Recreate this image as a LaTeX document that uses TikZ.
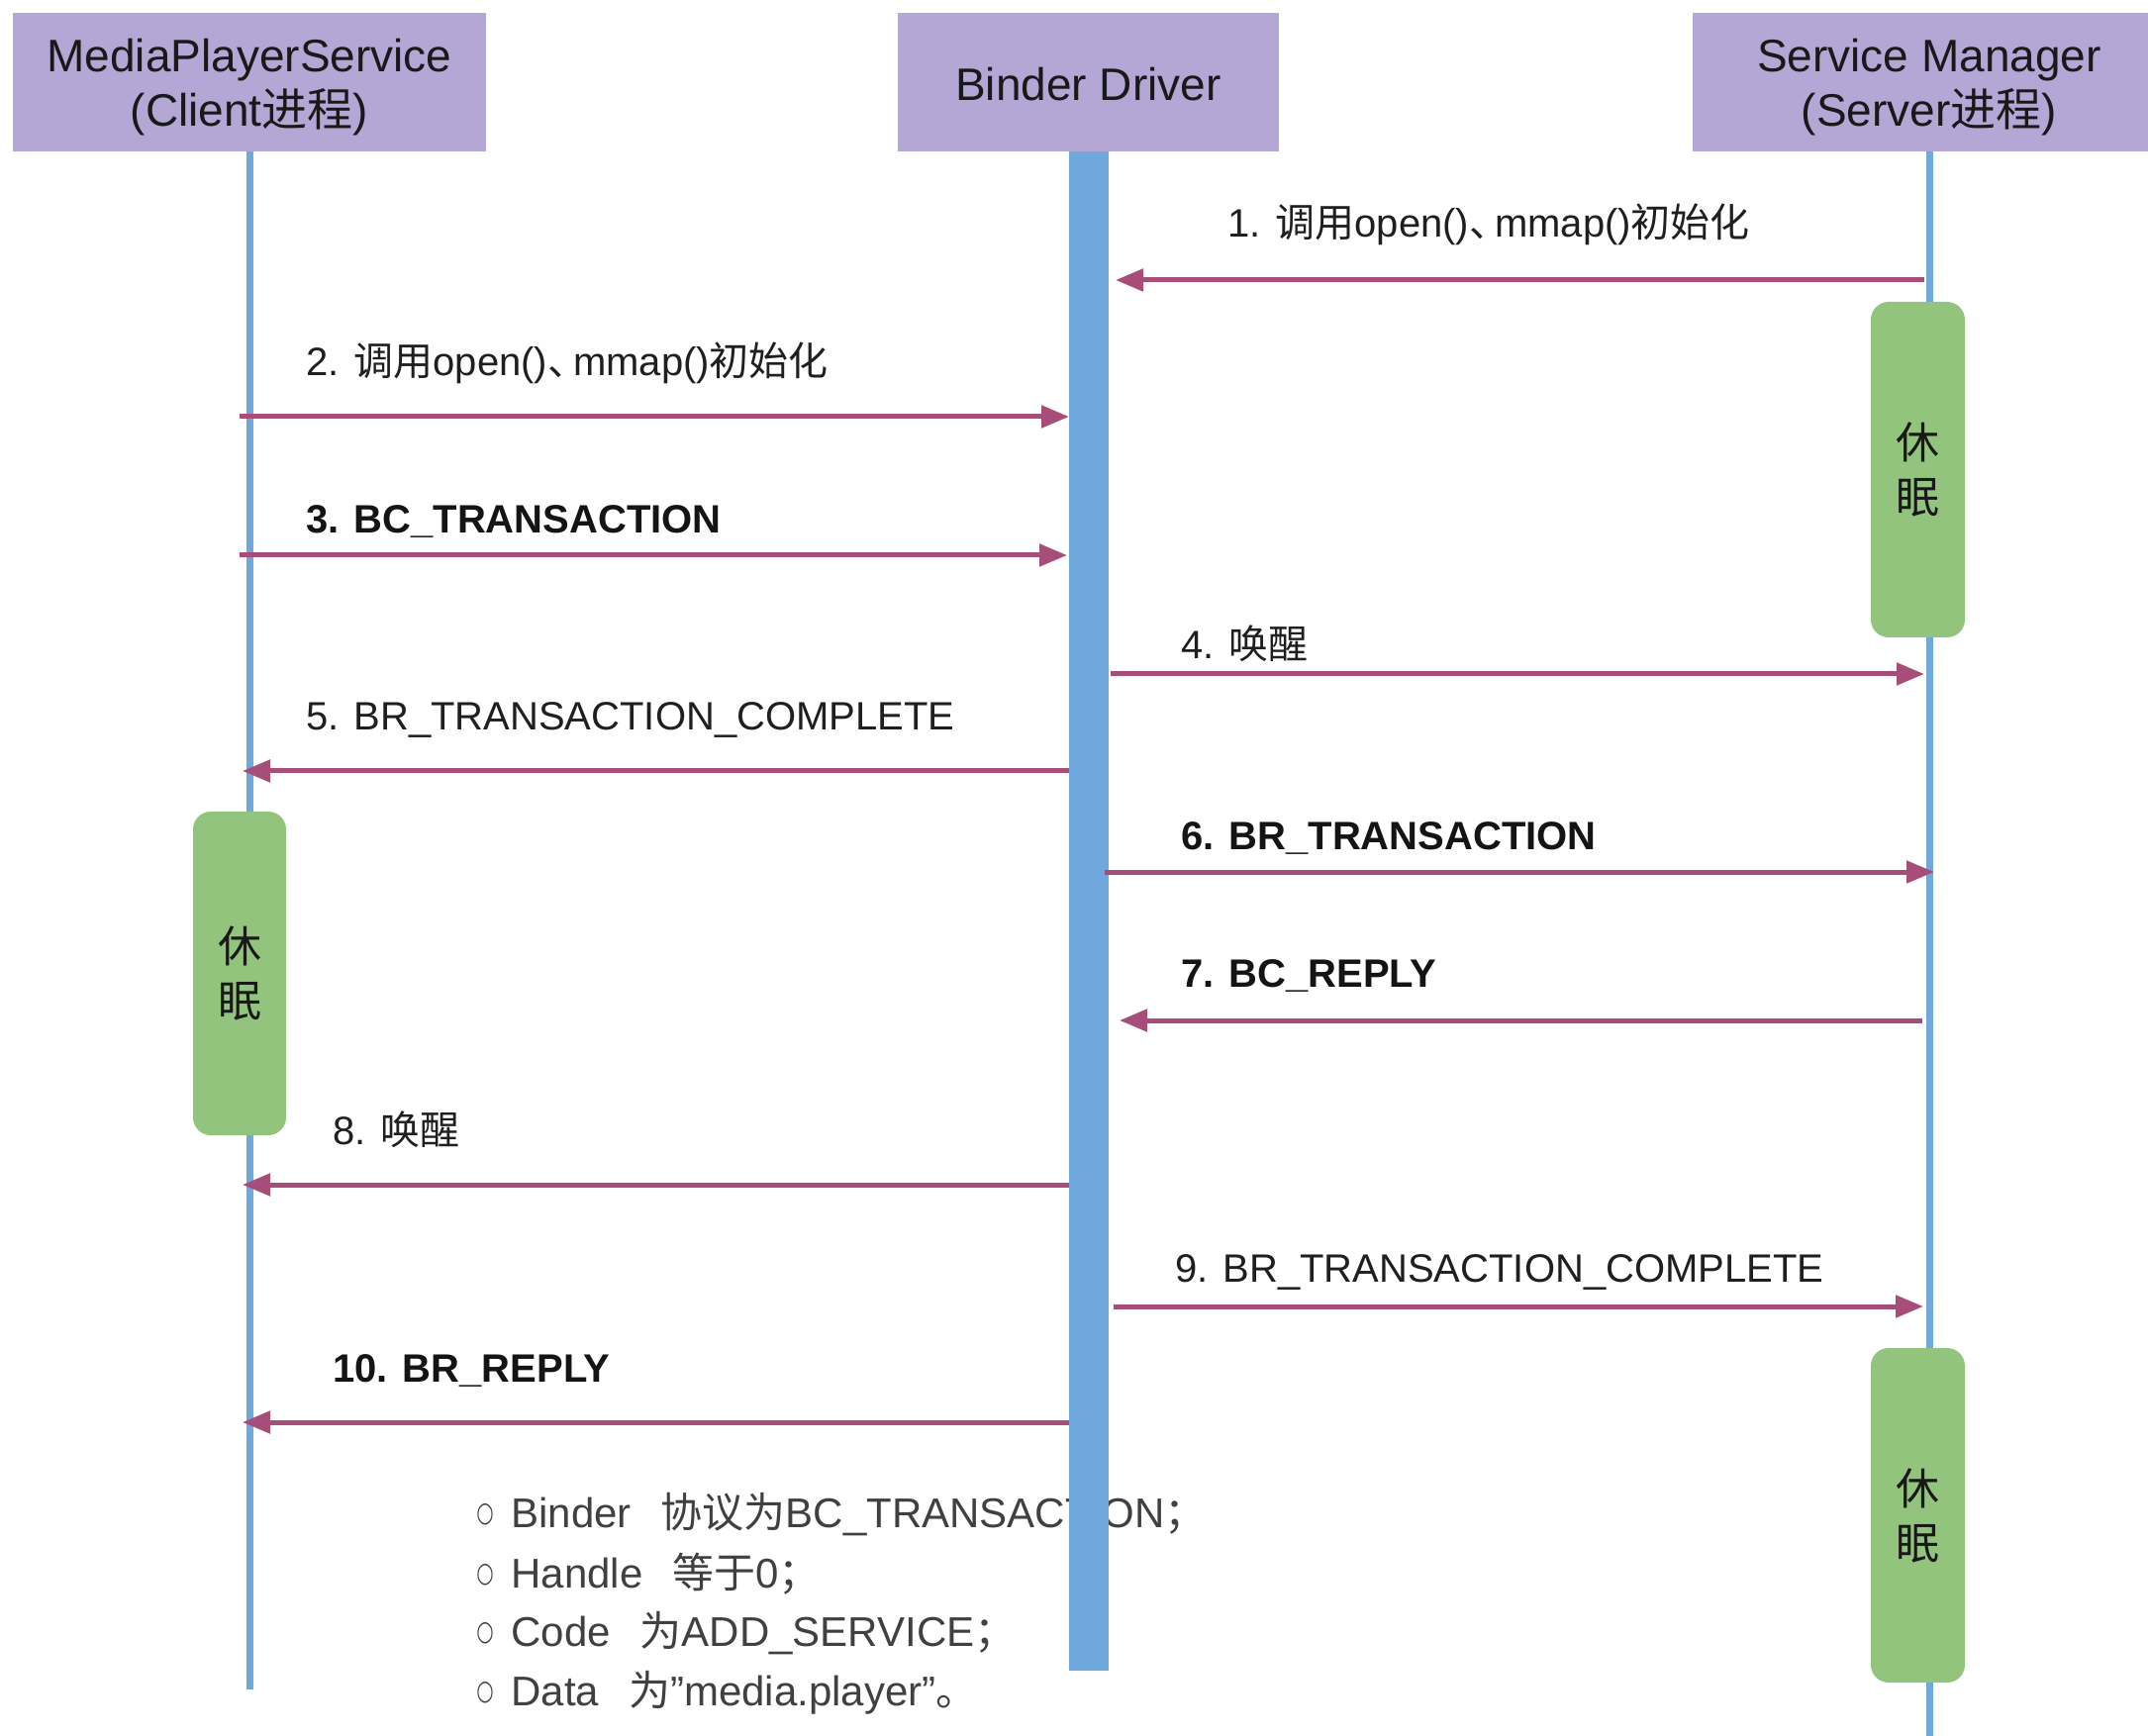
\documentclass[tikz,border=0pt]{standalone}
\usepackage{fontspec}
\usepackage{graphicx}
\setmainfont{Liberation Sans}
\newfontfamily\cjk{Noto Sans CJK SC}
\newfontfamily\dejavu{DejaVu Sans}
\usetikzlibrary{arrows.meta}
\definecolor{hdrfill}{HTML}{B4A7D6}
\definecolor{lifeblue}{HTML}{6FA8DC}
\definecolor{sleepgreen}{HTML}{93C47D}
\definecolor{msgcol}{HTML}{A64D79}
\definecolor{notegray}{HTML}{404040}
\newcommand{\zh}[1]{{\cjk #1}}
\newcommand{\dun}{\zh{、}\hspace{-7pt}}
\newcommand{\bulletmark}{\raisebox{2.6pt}{\scalebox{1}[1.4]{○}}}
\begin{document}
\begin{tikzpicture}[x=0.5pt,y=-0.5pt,
 hdr/.style={fill=hdrfill, draw=none, inner sep=0, minimum height=70pt},
 hdrtext/.style={inner sep=0, align=center, font=\fontsize{23pt}{27.5pt}\selectfont, text=black!90},
 sleep/.style={fill=sleepgreen, rounded corners=9pt, minimum width=47.5pt, align=center, inner sep=0, font=\cjk\fontsize{22pt}{27.5pt}\selectfont, text=black!90},
 life/.style={draw=lifeblue, line width=3.5pt},
 msg/.style={draw=msgcol, line width=2.5pt, -{Triangle[length=14pt,width=11pt]}},
 lbl/.style={anchor=base west, inner sep=0, font=\fontsize{20pt}{24pt}\selectfont, text=black!88},
 blbl/.style={anchor=base west, inner sep=0, font=\fontsize{20pt}{24pt}\selectfont\bfseries, text=black!92},
 note/.style={anchor=base west, inner sep=0, font=\fontsize{21pt}{25pt}\selectfont, text=notegray},
 bul/.style={anchor=base west, inner sep=0, font=\dejavu\fontsize{10pt}{12pt}\selectfont, text=notegray}
]
\useasboundingbox (0,0) rectangle (2170,1754);

% headers
\node[hdr, minimum width=239pt] (h1) at (252,83) {};
\node[hdrtext] (h1t) at (252,88) {MediaPlayerService\\(Client\zh{进程})};
\node[hdr, minimum width=192.5pt] (h2) at (1099.5,83) {};
\node[hdrtext] (h2t) at (1099.5,85) {Binder Driver};
\node[hdr, minimum width=239pt] (h3) at (1949,83) {};
\node[hdrtext] (h3t) at (1949,88) {Service Manager\\(Server\zh{进程})};

% lifelines
\coordinate (l1end) at (252,1707);
\coordinate (l3end) at (1949,1754);
\draw[life] (h1.south) -- (l1end);
\draw[life] (h3.south) -- (l3end);

% notes (drawn under the driver bar)
\node[bul] (b1) at (481,1543) {\bulletmark};
\node[note] (n1) at (516,1543) {Binder\hspace{15pt}\zh{协议为}BC\_TRANSACTION\zh{；}};
\node[bul] (b2) at (481,1604) {\bulletmark};
\node[note] (n2) at (516,1604) {Handle\hspace{15pt}\zh{等于}0\zh{；}};
\node[bul] (b3) at (481,1663) {\bulletmark};
\node[note] (n3) at (516,1663) {Code\hspace{15pt}\zh{为}ADD\_SERVICE\zh{；}};
\node[bul] (b4) at (481,1723) {\bulletmark};
\node[note] (n4) at (516,1723) {Data\hspace{15pt}\zh{为}”media.player”\zh{。}};

% driver bar
\node[fill=lifeblue, inner sep=0, minimum width=20pt, minimum height=767.5pt] (bar) at (1100,920.5) {};

% sleep boxes
\node[sleep, minimum height=169.5pt] (s1) at (1937.5,474.5) {休\\眠};
\node[sleep, minimum height=163.5pt, minimum width=47pt] (s2) at (242,983.5) {休\\眠};
\node[sleep, minimum height=169pt] (s3) at (1937.5,1531) {休\\眠};

% message endpoints
\coordinate (m1a) at (1944,283);  \coordinate (m1b) at (1127,283);
\coordinate (m2a) at (242,421);   \coordinate (m2b) at (1080,421);
\coordinate (m3a) at (242,561);   \coordinate (m3b) at (1078,561);
\coordinate (m4a) at (1122,681);  \coordinate (m4b) at (1944,681);
\coordinate (m5a) at (1080,779);  \coordinate (m5b) at (245,779);
\coordinate (m6a) at (1116,881);  \coordinate (m6b) at (1954,881);
\coordinate (m7a) at (1942,1031); \coordinate (m7b) at (1131,1031);
\coordinate (m8a) at (1080,1197); \coordinate (m8b) at (245,1197);
\coordinate (m9a) at (1125,1320); \coordinate (m9b) at (1943,1320);
\coordinate (m10a) at (1080,1437); \coordinate (m10b) at (245,1437);

\draw[msg] (m1a) -- (m1b);
\draw[msg] (m2a) -- (m2b);
\draw[msg] (m3a) -- (m3b);
\draw[msg] (m4a) -- (m4b);
\draw[msg] (m5a) -- (m5b);
\draw[msg] (m6a) -- (m6b);
\draw[msg] (m7a) -- (m7b);
\draw[msg] (m8a) -- (m8b);
\draw[msg] (m9a) -- (m9b);
\draw[msg] (m10a) -- (m10b);

% labels
\node[lbl] (t1) at (1240,240) {1. \zh{调用}open()\dun mmap()\zh{初始化}};
\node[lbl] (t2) at (309,380) {2. \zh{调用}open()\dun mmap()\zh{初始化}};
\node[blbl] (t3) at (309,539) {3. BC\_TRANSACTION};
\node[lbl] (t4) at (1193,666) {4. \zh{唤醒}};
\node[lbl] (t5) at (309,738) {5. BR\_TRANSACTION\_COMPLETE};
\node[blbl] (t6) at (1193,858) {6. BR\_TRANSACTION};
\node[blbl] (t7) at (1193,997) {7. BC\_REPLY};
\node[lbl] (t8) at (336,1156) {8. \zh{唤醒}};
\node[lbl] (t9) at (1187,1295) {9. BR\_TRANSACTION\_COMPLETE};
\node[blbl] (t10) at (336,1396) {10. BR\_REPLY};
\end{tikzpicture}
\end{document}
